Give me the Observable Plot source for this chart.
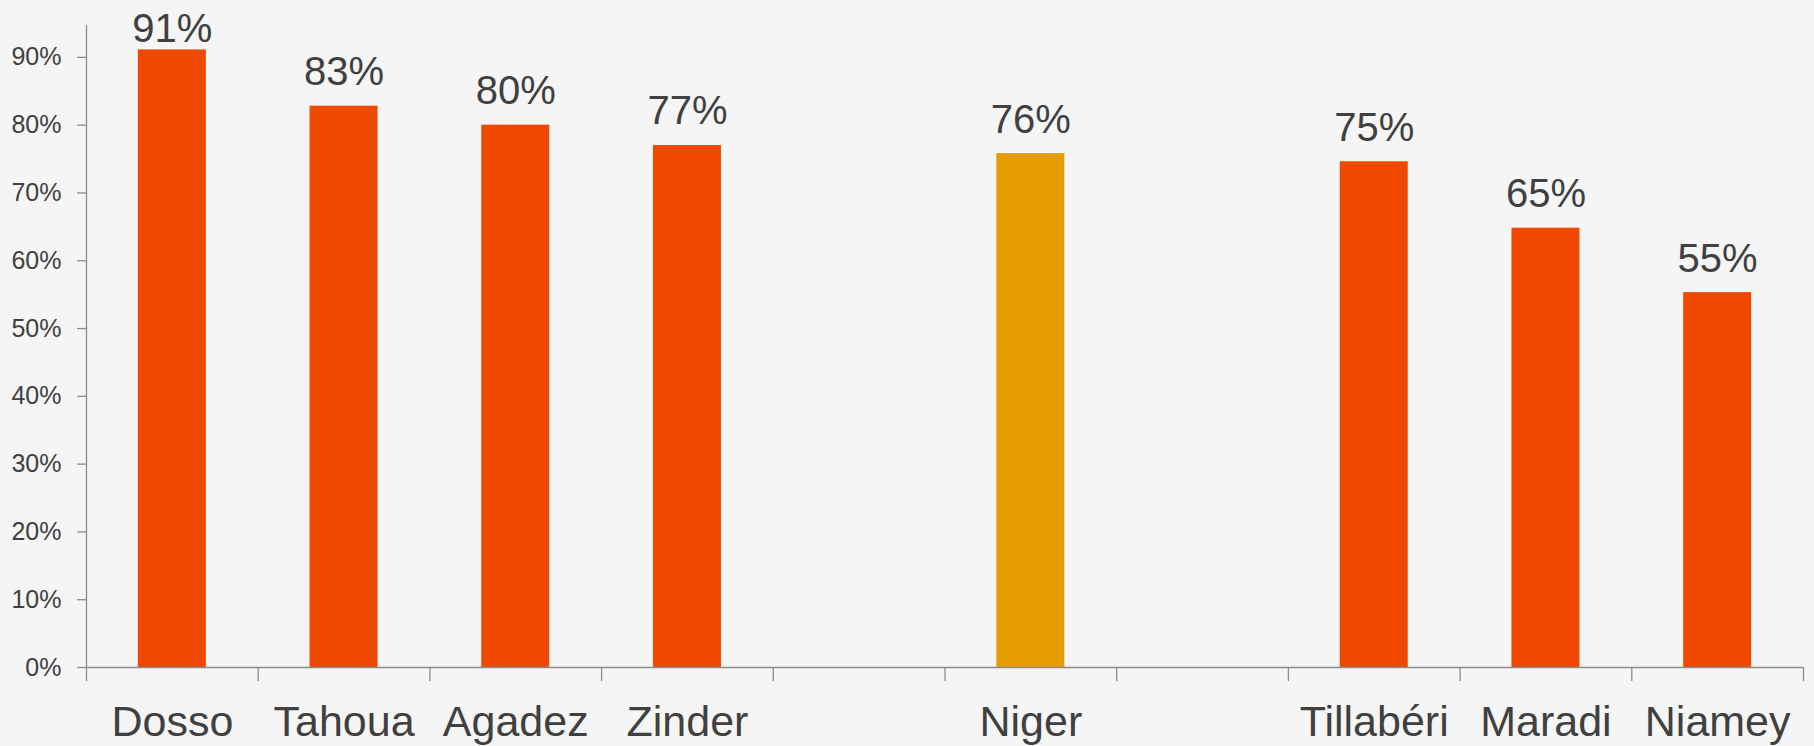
<!DOCTYPE html>
<html><head><meta charset="utf-8">
<script src="https://cdn.jsdelivr.net/npm/d3@7"></script>
<script src="https://cdn.jsdelivr.net/npm/@observablehq/plot@0.6"></script>
<style>html,body{margin:0;padding:0;background:#f5f5f5;overflow:hidden}</style>
</head><body><div id="chart"></div>
<script>
// Category slots along the x axis (two blank slots around "Niger")
const categories = ["Dosso", "Tahoua", "Agadez", "Zinder", "", "Niger", " ", "Tillabéri", "Maradi", "Niamey"];
// Regions with bars and their values (percent)
const regions = ["Dosso", "Tahoua", "Agadez", "Zinder", "Niger", "Tillabéri", "Maradi", "Niamey"];
const values = [91.1, 82.8, 80.0, 77.0, 75.8, 74.6, 64.8, 55.3];
const highlighted = ["Niger"];
const yTicks = [0, 10, 20, 30, 40, 50, 60, 70, 80, 90];

const data = regions.map((r, i) => ({region: r, value: values[i]}));

const W = 1814, H = 746, mL = 86, mR = 11, mT = 25, mB = 79;
const step = (W - mL - mR) / categories.length;
const barWidth = 68;
const inset = (step - barWidth) / 2;
const font = "'Liberation Sans', Arial, sans-serif";
const axisGrey = "#8c8c8c";
const textColor = "#404040";

const chart = Plot.plot({
  width: W, height: H,
  marginLeft: mL, marginRight: mR, marginTop: mT, marginBottom: mB,
  style: {background: "#f5f5f5", fontFamily: font, color: textColor, overflow: "visible"},
  x: {domain: categories, padding: 0, round: false, axis: null},
  y: {domain: [0, 94.7], axis: null},
  marks: [
    Plot.barY(data, {
      x: "region", y: "value",
      fill: d => highlighted.includes(d.region) ? "#E59C00" : "#EF4800",
      insetLeft: inset, insetRight: inset
    }),
    // y axis line (left edge of first band)
    Plot.ruleX([categories[0]], {x: d => d, dx: -step / 2, stroke: axisGrey, strokeWidth: 1.3}),
    // x baseline
    Plot.ruleY([0], {stroke: axisGrey, strokeWidth: 1.3}),
    // category boundary ticks below the baseline
    Plot.ruleX(categories, {x: d => d, dx: -step / 2, y1: 0, y2: 0, insetBottom: -14, stroke: axisGrey, strokeWidth: 1.3}),
    Plot.ruleX([categories[categories.length - 1]], {x: d => d, dx: step / 2, y1: 0, y2: 0, insetBottom: -14, stroke: axisGrey, strokeWidth: 1.3}),
    Plot.axisY({
      ticks: yTicks, tickSize: 9, tickPadding: 16,
      tickFormat: d => d + "%", fontSize: 25,
      stroke: axisGrey, strokeWidth: 1.3, fill: textColor, label: null
    }),
    Plot.axisX({
      tickSize: 0, tickPadding: 38, fontSize: 43,
      tickFormat: d => d.trim(), fill: textColor, label: null
    }),
    Plot.text(data, {
      x: "region", y: d => Math.min(d.value, 89.1),
      text: d => Math.round(d.value) + "%",
      dy: -21, lineAnchor: "bottom", fontSize: 40, fill: textColor
    })
  ]
});
document.getElementById("chart").append(chart);
</script>
</body></html>
